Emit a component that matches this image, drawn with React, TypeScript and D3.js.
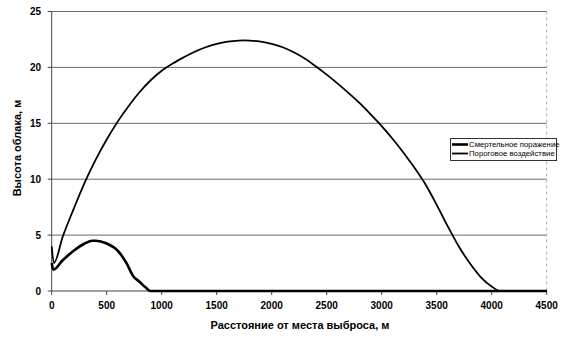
import React from "react";
import * as d3 from "d3";

const thresholdX = [0, 20, 100, 200, 300, 400, 500, 600, 700, 800, 900, 1000, 1100, 1200, 1300, 1400, 1500, 1600, 1700, 1750, 1800, 1900, 2000, 2100, 2200, 2300, 2400, 2500, 2600, 2700, 2800, 2900, 3000, 3100, 3200, 3300, 3400, 3500, 3600, 3700, 3800, 3900, 4000, 4080, 4500];
const thresholdY = [4.0, 2.5, 4.85, 7.35, 9.7, 11.75, 13.55, 15.15, 16.55, 17.8, 18.85, 19.7, 20.35, 20.9, 21.4, 21.8, 22.1, 22.3, 22.4, 22.42, 22.4, 22.3, 22.1, 21.8, 21.35, 20.8, 20.1, 19.35, 18.55, 17.7, 16.8, 15.8, 14.75, 13.6, 12.35, 11.0, 9.5, 7.7, 5.8, 4.0, 2.5, 1.25, 0.4, 0, 0];

const lethalX = [0, 15, 100, 200, 300, 370, 400, 500, 600, 680, 740, 800, 850, 900, 1000, 4500];
const lethalY = [2.5, 1.9, 2.75, 3.6, 4.25, 4.5, 4.5, 4.25, 3.6, 2.5, 1.35, 0.81, 0.35, 0, 0, 0];

const xTicks = [0, 500, 1000, 1500, 2000, 2500, 3000, 3500, 4000, 4500];
const yTicks = [0, 5, 10, 15, 20, 25];

const seriesNames = ["Смертельное поражение", "Пороговое воздействие"];
const xTitle = "Расстояние от места выброса, м";
const yTitle = "Высота облака, м";

export default function App() {
  const W = 579, H = 340;
  const left = 51.7, right = 546.7, top = 11.5, bottom = 291;
  const x = d3.scaleLinear().domain([0, 4500]).range([left, right]);
  const y = d3.scaleLinear().domain([0, 25]).range([bottom, top]);
  const line = d3
    .line<[number, number]>()
    .x((d) => x(d[0]))
    .y((d) => y(d[1]))
    .curve(d3.curveMonotoneX);
  const lethal: [number, number][] = lethalX.map((v, i) => [v, lethalY[i]]);
  const thresh: [number, number][] = thresholdX.map((v, i) => [v, thresholdY[i]]);
  const font = "Arial, 'Liberation Sans', sans-serif";
  return (
    <svg width={W} height={H} style={{ position: "absolute", left: 0, top: 0, background: "#fff" }} fontFamily={font}>
      {yTicks.filter((t) => t > 0).map((t) => (
        <line key={"g" + t} x1={left} x2={right} y1={y(t)} y2={y(t)} stroke="#6a6a6a" strokeWidth={1} />
      ))}
      <line x1={right} x2={right} y1={top} y2={bottom} stroke="#aaa" strokeWidth={1} strokeDasharray="3,3" />
      <line x1={left} x2={left} y1={top} y2={bottom} stroke="#444" strokeWidth={1} />
      <line x1={left} x2={right} y1={bottom} y2={bottom} stroke="#444" strokeWidth={1} />
      {yTicks.map((t) => (
        <g key={"y" + t}>
          <line x1={left - 4} x2={left} y1={y(t)} y2={y(t)} stroke="#444" />
          <text x={41} y={y(t) + 3.5} textAnchor="end" fontSize={10} fontWeight="bold">{t}</text>
        </g>
      ))}
      {xTicks.map((t) => (
        <g key={"x" + t}>
          <line x1={x(t)} x2={x(t)} y1={bottom} y2={bottom + 4} stroke="#444" />
          <text x={x(t)} y={309} textAnchor="middle" fontSize={10} fontWeight="bold">{t}</text>
        </g>
      ))}
      <path d={line(thresh) || ""} fill="none" stroke="#000" strokeWidth={1.8} />
      <path d={line(lethal) || ""} fill="none" stroke="#000" strokeWidth={2.6} />
      <text x={300} y={329} textAnchor="middle" fontSize={11} fontWeight="bold">{xTitle}</text>
      <text transform={`translate(21,148) rotate(-90)`} textAnchor="middle" fontSize={11} fontWeight="bold">{yTitle}</text>
      <g>
        <rect x={450.5} y={138.5} width={106} height={22} fill="#fff" stroke="#333" strokeWidth={1} />
        <line x1={452} x2={468} y1={144.5} y2={144.5} stroke="#000" strokeWidth={2.6} />
        <line x1={452} x2={468} y1={153.5} y2={153.5} stroke="#000" strokeWidth={1.8} />
        <text x={469} y={147.3} fontSize={7.8}>{seriesNames[0]}</text>
        <text x={469} y={156.3} fontSize={7.8}>{seriesNames[1]}</text>
      </g>
    </svg>
  );
}
